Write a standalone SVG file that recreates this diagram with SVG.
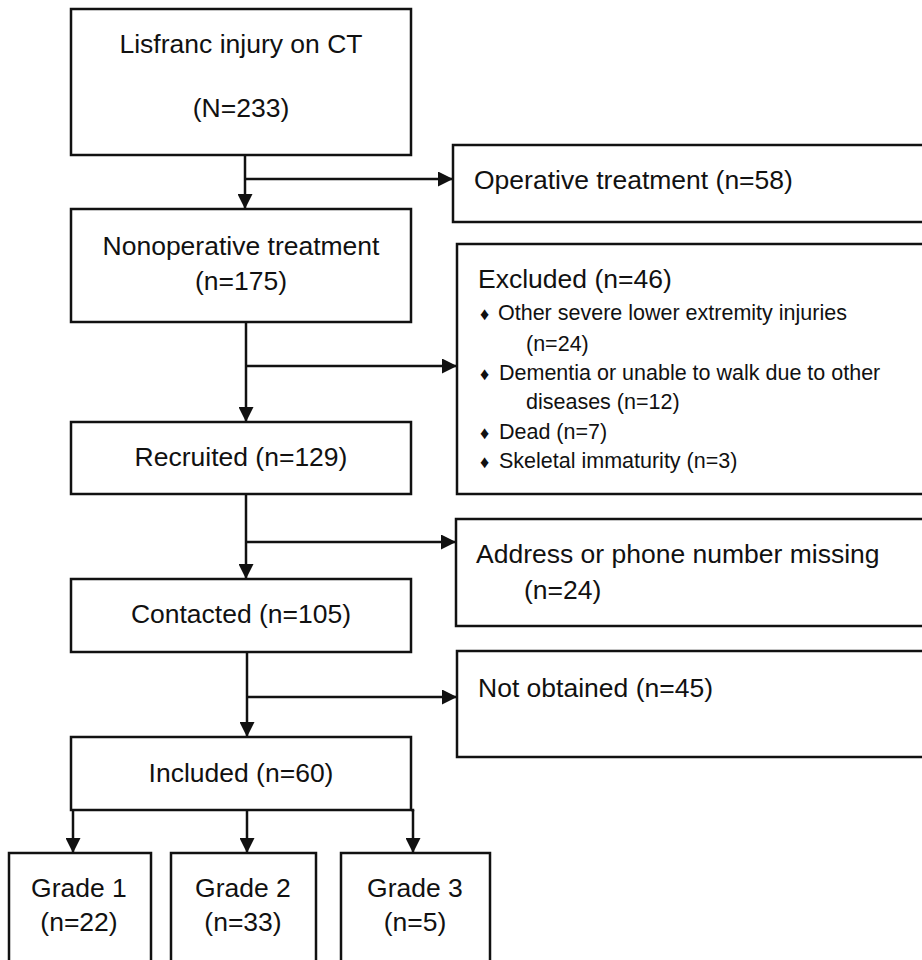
<svg xmlns="http://www.w3.org/2000/svg" width="922" height="960" viewBox="0 0 922 960">
<style>
.box{fill:#fff;stroke:#111;stroke-width:2.5}
.t{font-family:"Liberation Sans",Arial,Helvetica,sans-serif;font-size:26.5px;fill:#111}
.c{text-anchor:middle}
.s{font-family:"Liberation Sans",Arial,Helvetica,sans-serif;font-size:21.5px;fill:#111}
.b{font-size:18px}
.ln{fill:none;stroke:#111;stroke-width:2.5}
</style>
<defs>
<marker id="ah" markerUnits="userSpaceOnUse" markerWidth="15" markerHeight="15" refX="15" refY="7.5" orient="auto" viewBox="0 0 15 15">
<path d="M0,0 L15,7.5 L0,15 z" fill="#111"/>
</marker>
</defs>
<rect width="922" height="960" fill="#fff"/>
<g id="connectors">
<path class="ln" d="M245,155 V209" marker-end="url(#ah)"/>
<path class="ln" d="M245,179 H453" marker-end="url(#ah)"/>
<path class="ln" d="M246,322 V422" marker-end="url(#ah)"/>
<path class="ln" d="M246,366 H457" marker-end="url(#ah)"/>
<path class="ln" d="M246,494 V579" marker-end="url(#ah)"/>
<path class="ln" d="M246,542 H456" marker-end="url(#ah)"/>
<path class="ln" d="M247,652 V737" marker-end="url(#ah)"/>
<path class="ln" d="M247,697 H457" marker-end="url(#ah)"/>
<path class="ln" d="M73,810 V853" marker-end="url(#ah)"/>
<path class="ln" d="M247,810 V853" marker-end="url(#ah)"/>
<path class="ln" d="M413,810 V853" marker-end="url(#ah)"/>
<path class="ln" d="M411,810 H414.25"/>
</g>
<g id="n-lisfranc">
<rect class="box" x="71" y="9" width="340" height="146"/>
<text class="t c" x="241" y="53">Lisfranc injury on CT</text>
<text class="t c" x="241" y="117">(N=233)</text>
</g>
<g id="n-operative">
<rect class="box" x="453" y="145" width="480" height="77"/>
<text class="t" x="474" y="189">Operative treatment (n=58)</text>
</g>
<g id="n-nonoperative">
<rect class="box" x="71" y="209" width="340" height="113"/>
<text class="t c" x="241" y="255">Nonoperative treatment</text>
<text class="t c" x="241" y="290">(n=175)</text>
</g>
<g id="n-excluded">
<rect class="box" x="457" y="244" width="480" height="250"/>
<text class="t" x="478" y="288">Excluded (n=46)</text>
<text class="s" x="480" y="320"><tspan class="b">♦</tspan><tspan x="498">Other severe lower extremity injuries</tspan></text>
<text class="s" x="526" y="351">(n=24)</text>
<text class="s" x="480" y="380"><tspan class="b">♦</tspan><tspan x="499">Dementia or unable to walk due to other</tspan></text>
<text class="s" x="526" y="409">diseases (n=12)</text>
<text class="s" x="480" y="439"><tspan class="b">♦</tspan><tspan x="499">Dead (n=7)</tspan></text>
<text class="s" x="480" y="468"><tspan class="b">♦</tspan><tspan x="499">Skeletal immaturity (n=3)</tspan></text>
</g>
<g id="n-recruited">
<rect class="box" x="71" y="422" width="340" height="72"/>
<text class="t c" x="241" y="466">Recruited (n=129)</text>
</g>
<g id="n-address">
<rect class="box" x="456" y="519" width="480" height="107"/>
<text class="t" x="476" y="563">Address or phone number missing</text>
<text class="t" x="524" y="599">(n=24)</text>
</g>
<g id="n-contacted">
<rect class="box" x="71" y="579" width="340" height="73"/>
<text class="t c" x="241" y="623">Contacted (n=105)</text>
</g>
<g id="n-notobtained">
<rect class="box" x="457" y="651" width="480" height="106"/>
<text class="t" x="478" y="697">Not obtained (n=45)</text>
</g>
<g id="n-included">
<rect class="box" x="71" y="737" width="340" height="73"/>
<text class="t c" x="241" y="782">Included (n=60)</text>
</g>
<g id="n-grade1">
<rect class="box" x="9" y="853" width="142" height="120"/>
<text class="t c" x="79" y="897">Grade 1</text>
<text class="t c" x="79" y="931">(n=22)</text>
</g>
<g id="n-grade2">
<rect class="box" x="171" y="853" width="145" height="120"/>
<text class="t c" x="243" y="897">Grade 2</text>
<text class="t c" x="243" y="931">(n=33)</text>
</g>
<g id="n-grade3">
<rect class="box" x="341" y="853" width="149" height="120"/>
<text class="t c" x="415" y="897">Grade 3</text>
<text class="t c" x="415" y="931">(n=5)</text>
</g>
</svg>
